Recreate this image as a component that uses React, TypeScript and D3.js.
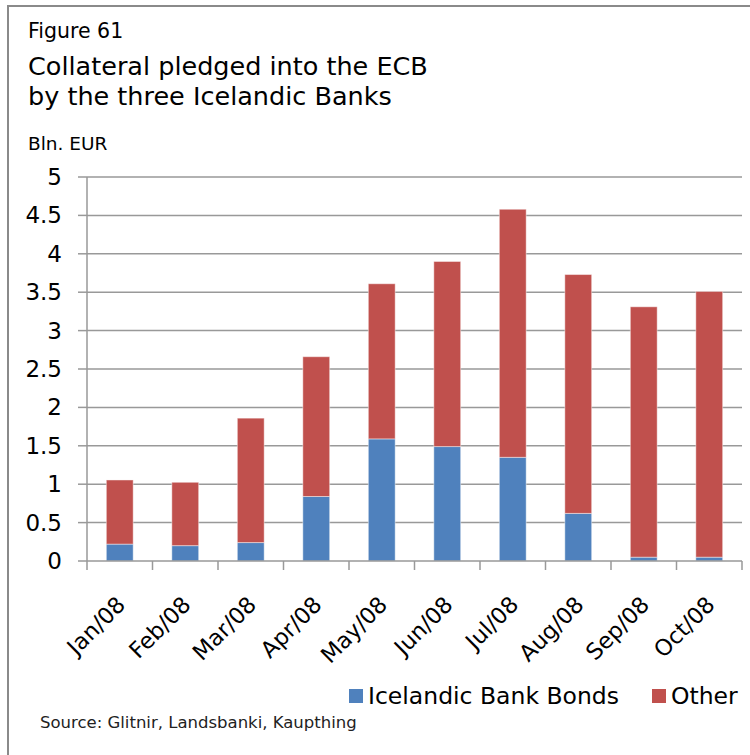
import { useRef, useEffect } from "react";
import * as d3 from "d3";

const months = ["Jan/08", "Feb/08", "Mar/08", "Apr/08", "May/08", "Jun/08", "Jul/08", "Aug/08", "Sep/08", "Oct/08"];
const bankBonds = [0.22, 0.2, 0.24, 0.84, 1.59, 1.49, 1.35, 0.62, 0.05, 0.05];
const other = [0.835, 0.825, 1.62, 1.82, 2.02, 2.41, 3.23, 3.11, 3.26, 3.46];
const seriesNames = ["Icelandic Bank Bonds", "Other"];
const seriesColors = ["#4F81BD", "#C0504D"];
const yTicks = [0, 0.5, 1, 1.5, 2, 2.5, 3, 3.5, 4, 4.5, 5];

export default function App() {
  const svgRef = useRef<SVGSVGElement>(null);

  useEffect(() => {
    if (!svgRef.current) return;
    const svg = d3.select(svgRef.current);
    svg.selectAll("*").remove();
    const font = "'DejaVu Sans', sans-serif";
    const gridColor = "#999999";

    const left = 87;
    const right = 742;
    const top = 177;
    const bottom = 561;

    // frame (only top and left edges are visible in the picture)
    svg.append("line").attr("x1", 8).attr("x2", 750).attr("y1", 6).attr("y2", 6)
      .attr("stroke", "#8a8a8a").attr("stroke-width", 2);
    svg.append("line").attr("x1", 8).attr("x2", 8).attr("y1", 5).attr("y2", 755)
      .attr("stroke", "#8a8a8a").attr("stroke-width", 2);

    // titles
    svg.append("text").attr("x", 28).attr("y", 38).text("Figure 61")
      .attr("font-family", font).attr("font-size", 20.5).attr("fill", "#000");
    svg.append("text").attr("x", 28).attr("y", 75).text("Collateral pledged into the ECB")
      .attr("font-family", font).attr("font-size", 25.5).attr("fill", "#000");
    svg.append("text").attr("x", 28).attr("y", 105).text("by the three Icelandic Banks")
      .attr("font-family", font).attr("font-size", 25.5).attr("fill", "#000");
    svg.append("text").attr("x", 28).attr("y", 150).text("Bln. EUR")
      .attr("font-family", font).attr("font-size", 18.5).attr("fill", "#000");

    const x = d3.scaleBand<string>().domain(months).range([left, right]).padding(0);
    const y = d3.scaleLinear().domain([0, 5]).range([bottom, top]);
    const barW = x.step() * 0.41;

    // gridlines
    svg.append("g").selectAll("line").data(yTicks.slice(1)).enter().append("line")
      .attr("x1", left).attr("x2", right)
      .attr("y1", (d) => y(d)).attr("y2", (d) => y(d))
      .attr("stroke", gridColor).attr("stroke-width", 1.5);

    // y axis
    const yAxis = svg.append("g");
    yAxis.append("line").attr("x1", left).attr("x2", left).attr("y1", top).attr("y2", bottom)
      .attr("stroke", gridColor).attr("stroke-width", 1.5);
    yAxis.selectAll(".yt").data(yTicks).enter().append("line").attr("class", "yt")
      .attr("x1", left - 9).attr("x2", left)
      .attr("y1", (d) => y(d)).attr("y2", (d) => y(d))
      .attr("stroke", gridColor).attr("stroke-width", 1.5);
    yAxis.selectAll(".yl").data(yTicks).enter().append("text").attr("class", "yl")
      .attr("x", 62).attr("y", (d) => y(d) + 8)
      .attr("text-anchor", "end")
      .attr("font-family", font).attr("font-size", 23).attr("fill", "#000")
      .text((d) => String(d));

    // stacked bars
    const rows = months.map((m, i) => ({ month: m, bonds: bankBonds[i], other: other[i] }));
    const stacked = d3.stack<{ month: string; bonds: number; other: number }>().keys(["bonds", "other"])(rows);
    svg.append("g").selectAll("g").data(stacked).enter().append("g")
      .attr("fill", (_, i) => seriesColors[i])
      .selectAll("rect").data((s) => s).enter().append("rect")
      .attr("x", (d) => (x(d.data.month) as number) + (x.step() - barW) / 2)
      .attr("width", barW)
      .attr("y", (d) => y(d[1]))
      .attr("height", (d) => y(d[0]) - y(d[1]))
      .attr("stroke", "rgba(255,255,255,0.45)").attr("stroke-width", 1);

    // x axis
    const xAxis = svg.append("g");
    xAxis.append("line").attr("x1", left).attr("x2", right).attr("y1", bottom).attr("y2", bottom)
      .attr("stroke", gridColor).attr("stroke-width", 1.5);
    const boundaries = months.map((m) => x(m) as number).concat([right]);
    xAxis.selectAll(".xt").data(boundaries).enter().append("line").attr("class", "xt")
      .attr("x1", (d) => d).attr("x2", (d) => d).attr("y1", bottom).attr("y2", bottom + 9)
      .attr("stroke", gridColor).attr("stroke-width", 1.5);
    xAxis.selectAll(".xl").data(months).enter().append("text").attr("class", "xl")
      .attr("transform", (m) => `translate(${(x(m) as number) + x.step() / 2 + 7},${bottom + 45}) rotate(-45)`)
      .attr("text-anchor", "end")
      .attr("font-family", font).attr("font-size", 22.5).attr("fill", "#000")
      .text((m) => m);

    // legend
    const legendX = [349, 652];
    const lg = svg.append("g");
    seriesNames.forEach((name, i) => {
      lg.append("rect").attr("x", legendX[i]).attr("y", 689).attr("width", 14).attr("height", 14)
        .attr("fill", seriesColors[i]);
      lg.append("text").attr("x", legendX[i] + 19).attr("y", 704).text(name)
        .attr("font-family", font).attr("font-size", 23.5).attr("fill", "#000");
    });

    // source
    svg.append("text").attr("x", 40).attr("y", 728).text("Source: Glitnir, Landsbanki, Kaupthing")
      .attr("font-family", font).attr("font-size", 16.5).attr("fill", "#222");
  }, []);

  return (
    <svg
      ref={svgRef}
      width={750}
      height={755}
      style={{ position: "absolute", left: 0, top: 0, background: "#fff" }}
    />
  );
}
